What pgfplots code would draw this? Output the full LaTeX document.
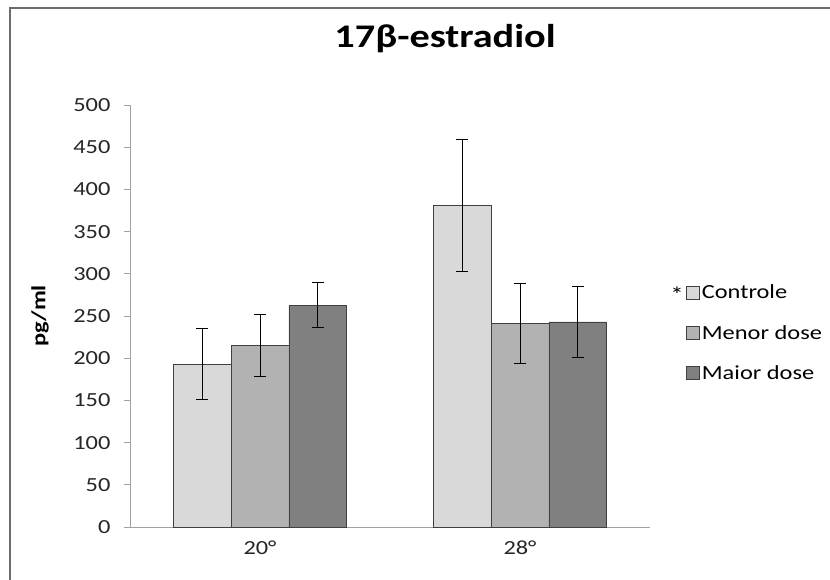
\documentclass[border=0pt]{standalone}
\usepackage{fontspec}
\setmainfont{Carlito}[FakeStretch=1.22]
\usepackage{pgfplots}
\pgfplotsset{compat=1.18}
\definecolor{cA}{HTML}{D9D9D9}
\definecolor{cB}{HTML}{B2B2B2}
\definecolor{cC}{HTML}{808080}
\definecolor{axgray}{HTML}{A0A0A0}
\definecolor{edge}{HTML}{404040}
\begin{document}
\begin{tikzpicture}
\useasboundingbox (0,0) rectangle (830pt,579pt);
\draw[color=gray!85!black, line width=1.5pt] (10pt,-2pt) -- (10pt,571pt) -- (832pt,571pt);
\begin{axis}[
  at={(130pt,52pt)}, anchor=south west,
  scale only axis, width=520pt, height=422pt,
  ybar=0pt, bar width=57.8pt,
  xmin=-0.5, xmax=1.5, ymin=0, ymax=500,
  ytick={0,50,...,500},
  xtick={0,1}, xticklabels={20°,28°},
  major x tick style={draw=none},
  extra x ticks={-0.5,0.5,1.5}, extra x tick labels={},
  extra x tick style={major tick length=8pt, tick style={draw=axgray, line width=0.8pt}},
  tick align=outside, major tick length=6pt,
  ytick style={draw=axgray, line width=0.8pt},
  axis x line*=bottom, axis y line*=left,
  axis line style={draw=axgray, line width=0.8pt, -},
  /pgf/number format/assume math mode=true,
  tick label style={font=\fontsize{20}{22}\selectfont, color=black!85},
  xticklabel style={yshift=-4pt},
  yticklabel style={xshift=-10pt},
  title={\textbf{17β-estradiol}},
  title style={at={(0.606,1.142)}, anchor=center, font=\fontsize{33}{36}\selectfont},
  ylabel={\textbf{pg/ml}},
  ylabel style={at={(-0.173,0.5)}, anchor=center, rotate=0, font=\fontsize{20}{22}\selectfont},
  legend style={at={(1.069,0.46)}, anchor=west, draw=none, fill=none,
    font=\fontsize{20}{22}\selectfont, row sep=21pt, inner sep=0pt,
    /tikz/every even column/.append style={column sep=2pt}},
  legend image code/.code={\draw[#1, draw=edge, line width=0.8pt] (0pt,-6.5pt) rectangle (13pt,6.5pt);},
  legend cell align=left,
  error bars/y dir=both, error bars/y explicit,
  error bars/error mark options={rotate=90, mark size=6pt, line width=1pt, black},
  error bars/error bar style={line width=1pt, black},
  clip=false,
]
\addplot[fill=cA, draw=edge, line width=0.8pt] coordinates {(0,193) +- (0,42) (1,381) +- (0,78)};
\addplot[fill=cB, draw=edge, line width=0.8pt] coordinates {(0,215) +- (0,37) (1,241) +- (0,47)};
\addplot[fill=cC, draw=edge, line width=0.8pt] coordinates {(0,263) +- (0,27) (1,243) +- (0,42)};
\legend{Controle, Menor dose, Maior dose}
\node[font=\fontsize{22}{24}\selectfont, anchor=center, inner sep=0pt] at (rel axis cs:1.052,0.55) {*};
\end{axis}
\end{tikzpicture}
\end{document}
